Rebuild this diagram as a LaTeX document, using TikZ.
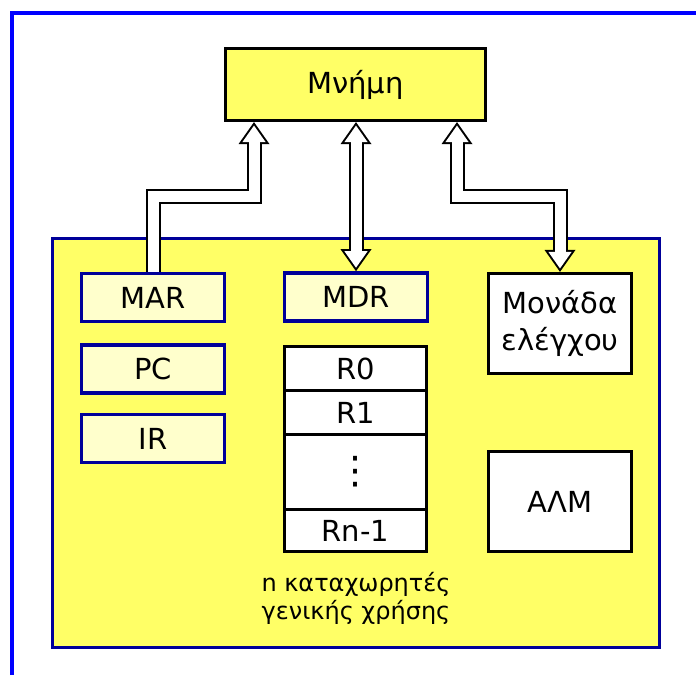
\documentclass[tikz,border=0pt]{standalone}
\usepackage{fontspec}
\setmainfont{DejaVu Sans}
\usepackage{tikz}
\usetikzlibrary{arrows.meta,positioning}

\definecolor{cpuyellow}{RGB}{255,255,102}
\definecolor{regyellow}{RGB}{255,255,204}
\definecolor{navyline}{RGB}{0,0,153}
\definecolor{frameblue}{RGB}{0,0,255}

\tikzset{
  label font/.style={font=\fontsize{14.5}{18.5}\selectfont},
  membox/.style={draw=black, line width=1.6pt, fill=cpuyellow, label font,
    minimum width=130pt, minimum height=36pt, inner sep=0pt},
  cpubox/.style={draw=navyline, line width=1.6pt, fill=cpuyellow,
    minimum width=303.5pt, minimum height=204.5pt, inner sep=0pt},
  specreg/.style={draw=navyline, line width=1.8pt, fill=regyellow, label font,
    minimum width=71.5pt, minimum height=24pt, inner sep=0pt},
  regbox/.style={draw=black, line width=1.6pt, fill=white, label font,
    minimum width=71pt, inner sep=0pt, outer sep=0pt},
  unitbox/.style={draw=black, line width=1.6pt, fill=white, label font,
    minimum width=71.5pt, minimum height=50pt, inner sep=0pt, align=center},
  busout/.style={draw=black, line width=7.5pt,
    >={Triangle[length=11pt, width=15.5pt, line width=0pt]}},
  busin/.style={draw=white, line width=5.5pt,
    >={Triangle[length=8.25pt, width=11.6pt, line width=0pt]}}
}

\begin{document}
\begin{tikzpicture}[x=0.5pt, y=-0.5pt]
    \useasboundingbox (0,0) rectangle (696,675);

    % Outer frame
    \draw[frameblue, line width=2pt] (12,675) -- (12,13) -- (696,13);

    % Memory and processor
    \node[membox] (mem) at (355.5,84.5) {Μνήμη};
    \node[cpubox] (cpu) at (356,443) {};

    % Special registers
    \node[specreg] (mar) at (153,297.5) {MAR};
    \node[specreg] (pc) at (153,369) {PC};
    \node[specreg] (ir) at (153,438.5) {IR};
    \node[specreg] (mdr) at (356,297) {MDR};

    % General purpose registers
    \node[regbox, minimum height=22pt] (r0) at (355.5,368.5) {R0};
    \node[regbox, minimum height=22pt, below=0pt of r0] (r1) {R1};
    \node[regbox, minimum height=37.5pt, below=0pt of r1, font=\fontsize{19}{19}\selectfont] (rdots) {⋮};
    \node[regbox, minimum height=21pt, below=0pt of rdots] (rn) {Rn-1};
    \node[align=center, font=\fontsize{12}{14}\selectfont] (caption) at (356,598)
        {n καταχωρητές\\γενικής χρήσης};

    % Control unit and ALU
    \node[unitbox] (ctrl) at (560,323.5) {Μονάδα\\ελέγχου};
    \node[unitbox] (alu) at (560,501.5) {ΑΛΜ};

    % Buses
    \coordinate (busy) at (0,196.5);
    \coordinate (memA) at ([xshift=-50.75pt]mem.south);
    \coordinate (memC) at ([xshift=50.75pt]mem.south);

    \draw[busout, ->] (mar.north) |- (memA |- busy) -- (memA);
    \draw[busin, ->, shorten >=1.75pt] (mar.north) |- (memA |- busy) -- (memA);

    \draw[busout, <->] (mdr.north) -- (mdr.north |- mem.south);
    \draw[busin, <->, shorten >=1.75pt, shorten <=1.75pt] (mdr.north) -- (mdr.north |- mem.south);

    \draw[busout, <->] (memC) |- (ctrl.north |- busy) -- (ctrl.north);
    \draw[busin, <->, shorten >=1.75pt, shorten <=1.75pt] (memC) |- (ctrl.north |- busy) -- (ctrl.north);
\end{tikzpicture}
\end{document}
